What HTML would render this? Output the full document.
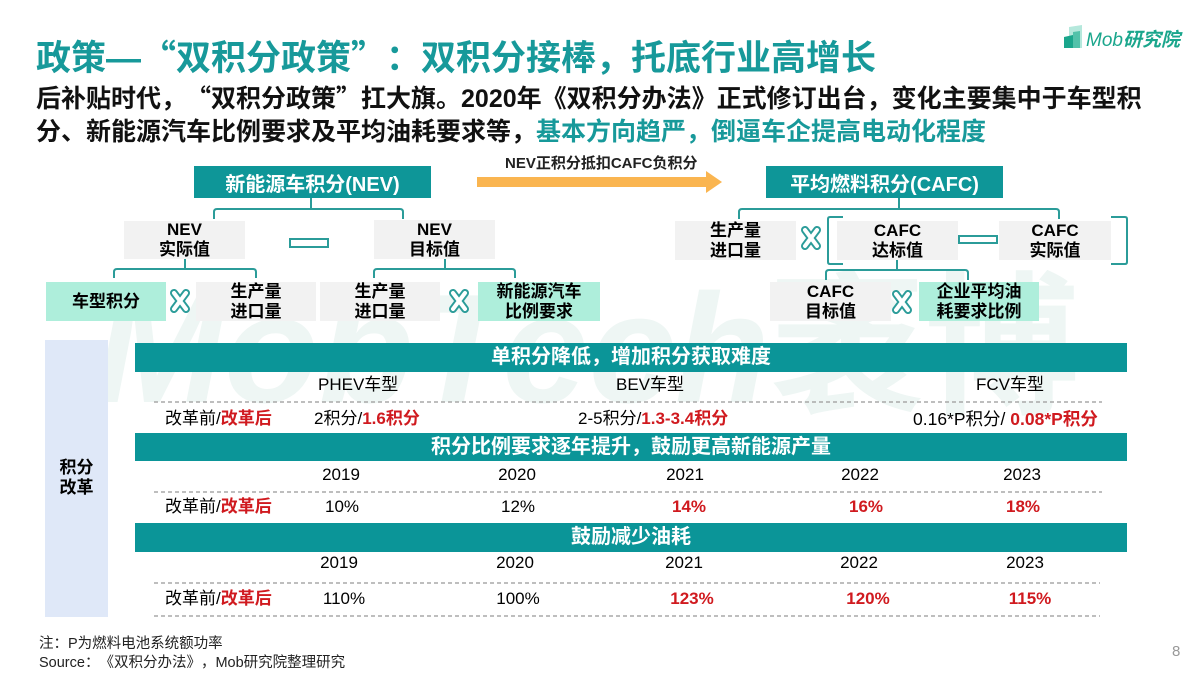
<!DOCTYPE html>
<html><head><meta charset="utf-8">
<style>
*{margin:0;padding:0;box-sizing:border-box}
body{width:1200px;height:675px;position:relative;overflow:hidden;background:#fff;font-family:"Liberation Sans","Noto Sans CJK SC",sans-serif;color:#000;text-spacing-trim:space-all}
.a{position:absolute;white-space:nowrap}
.cj{font-family:"Noto Sans CJK SC",sans-serif}
.ql{display:inline-block;width:1em;text-align:right;font-family:"Noto Sans CJK SC",sans-serif}
.qr{display:inline-block;width:1em;text-align:left;font-family:"Noto Sans CJK SC",sans-serif}
.box{position:absolute;display:flex;align-items:center;justify-content:center;text-align:center;font-weight:bold;font-size:17px;line-height:20px;white-space:nowrap}
.g{background:#f2f2f2}
.m{background:#aeeedb}
.hd{position:absolute;background:#0e9698;color:#fff;font-weight:bold;font-size:20px;display:flex;align-items:center;justify-content:center;white-space:nowrap}
.bar{position:absolute;left:135px;width:992px;background:#0b9598;color:#fff;font-weight:bold;font-size:20px;line-height:29px;height:29px;text-align:center;white-space:nowrap}
.r{color:#d01a1f;font-weight:bold}
.c{position:absolute;width:160px;text-align:center;font-size:17px;line-height:20px;white-space:nowrap}
.l{position:absolute;font-size:17px;line-height:20px;white-space:nowrap}
</style></head>
<body>

<!-- watermark -->
<div class="a" style="left:95px;top:255px;font-size:155px;line-height:160px;font-weight:bold;font-style:italic;color:#eef6f4">MobTech<span class="cj" style="font-style:normal">袤博</span></div>

<!-- title -->
<div class="a" style="left:36px;top:38px;font-size:35px;line-height:36px;font-weight:bold;color:#17999a">政策—<span class="ql">“</span>双积分政策<span class="qr">”</span><span class="qr">：</span>双积分接棒，托底行业高增长</div>

<!-- logo -->
<svg class="a" style="left:1060px;top:23px" width="30" height="30" viewBox="0 0 30 30">
  <polygon points="9,4 22,2 22,25 9,25" fill="#b5e8dc"/>
  <polygon points="13,9 20,8 20,25 13,25" fill="#52c2aa"/>
  <polygon points="4,14 13,12 13,25 4,25" fill="#1aa68c"/>
</svg>
<div class="a" style="left:1086px;top:31px;font-size:19px;line-height:20px;color:#1aa68c;font-style:italic">Mob<span style="font-weight:bold">研究院</span></div>

<!-- subtitle -->
<div class="a" style="left:36px;top:81px;font-size:25px;line-height:33px;font-weight:bold;color:#111">后补贴时代<span class="qr">，</span><span class="ql">“</span>双积分政策<span class="qr">”</span>扛大旗。2020年《双积分办法》正式修订出台，变化主要集中于车型积<br>分、新能源汽车比例要求及平均油耗要求等，<span style="color:#17999a">基本方向趋严，倒逼车企提高电动化程度</span></div>

<!-- diagram lines -->
<svg class="a" style="left:0;top:0" width="1200" height="675" viewBox="0 0 1200 675">
  <g fill="none" stroke="#2b9c99" stroke-width="2">
    <path d="M311 198 V209"/>
    <path d="M214 219 V212 Q214 209 217 209 H400 Q403 209 403 212 V219"/>
    <path d="M185 259 V269"/>
    <path d="M114 278 V272 Q114 269 117 269 H253 Q256 269 256 272 V278"/>
    <path d="M445 259 V269"/>
    <path d="M374 278 V272 Q374 269 377 269 H512 Q515 269 515 272 V278"/>
    <path d="M899 198 V209"/>
    <path d="M739 219 V212 Q739 209 742 209 H1056 Q1059 209 1059 212 V219"/>
    <path d="M897 260 V270"/>
    <path d="M826 280 V273 Q826 270 829 270 H965 Q968 270 968 273 V280"/>
    <path d="M843 217 H830 Q828 217 828 219 V262 Q828 264 830 264 H843"/>
    <path d="M1111 217 H1125 Q1127 217 1127 219 V262 Q1127 264 1125 264 H1111"/>
  </g>
  <!-- arrow -->
  <rect x="477" y="177" width="230" height="10" fill="#fab550"/>
  <polygon points="706,171 722,182 706,193" fill="#fab550"/>
</svg>

<div class="a" style="left:505px;top:155px;font-size:15px;line-height:18px;font-weight:bold;color:#222">NEV正积分抵扣CAFC负积分</div>

<!-- header boxes -->
<div class="hd" style="left:194px;top:166px;width:237px;height:32px">新能源车积分(NEV)</div>
<div class="hd" style="left:766px;top:166px;width:237px;height:32px">平均燃料积分(CAFC)</div>

<!-- NEV side -->
<div class="box g" style="left:124px;top:221px;width:121px;height:38px">NEV<br>实际值</div>
<div class="box g" style="left:374px;top:220px;width:121px;height:39px">NEV<br>目标值</div>
<div class="box m" style="left:46px;top:282px;width:120px;height:39px">车型积分</div>
<div class="box g" style="left:196px;top:282px;width:120px;height:39px">生产量<br>进口量</div>
<div class="box g" style="left:320px;top:282px;width:120px;height:39px">生产量<br>进口量</div>
<div class="box m" style="left:478px;top:282px;width:122px;height:39px">新能源汽车<br>比例要求</div>

<!-- CAFC side -->
<div class="box g" style="left:675px;top:221px;width:121px;height:39px">生产量<br>进口量</div>
<div class="box g" style="left:837px;top:221px;width:121px;height:39px">CAFC<br>达标值</div>
<div class="box g" style="left:999px;top:221px;width:112px;height:39px">CAFC<br>实际值</div>
<div class="box g" style="left:770px;top:282px;width:121px;height:39px">CAFC<br>目标值</div>
<div class="box m" style="left:919px;top:282px;width:120px;height:39px">企业平均油<br>耗要求比例</div>

<!-- symbols -->
<svg class="a" style="left:0;top:0" width="1200" height="675" viewBox="0 0 1200 675">
  <rect x="290" y="239" width="38" height="8" fill="#fff" stroke="#2b9c99" stroke-width="2"/>
  <rect x="959" y="236" width="38" height="7" fill="#fff" stroke="#2b9c99" stroke-width="2"/>
  <g stroke-linecap="round">
    <g stroke="#2b9c99" stroke-width="8">
      <path d="M174 293 L186 309 M186 293 L174 309"/>
      <path d="M453 293 L465 309 M465 293 L453 309"/>
      <path d="M805 230 L817 246 M817 230 L805 246"/>
      <path d="M896 294 L908 310 M908 294 L896 310"/>
    </g>
    <g stroke="#fff" stroke-width="4">
      <path d="M174 293 L186 309 M186 293 L174 309"/>
      <path d="M453 293 L465 309 M465 293 L453 309"/>
      <path d="M805 230 L817 246 M817 230 L805 246"/>
      <path d="M896 294 L908 310 M908 294 L896 310"/>
    </g>
  </g>
</svg>

<!-- table -->
<div class="a" style="left:45px;top:340px;width:63px;height:277px;background:#dfe8f8"></div>
<div class="a" style="left:45px;top:458px;width:63px;text-align:center;font-size:17px;line-height:20px;font-weight:bold">积分<br>改革</div>

<div class="bar" style="top:343px">单积分降低，增加积分获取难度</div>
<div class="bar" style="top:433px;height:28px;line-height:28px">积分比例要求逐年提升，鼓励更高新能源产量</div>
<div class="bar" style="top:523px">鼓励减少油耗</div>

<svg class="a" style="left:0;top:0" width="1200" height="675" viewBox="0 0 1200 675">
  <g stroke="#a8a8a8" stroke-width="1.5" stroke-dasharray="4 3">
    <line x1="154" y1="402" x2="1102" y2="402"/>
    <line x1="154" y1="492" x2="1102" y2="492"/>
    <line x1="154" y1="583" x2="1100" y2="583"/>
    <line x1="154" y1="616" x2="1100" y2="616"/>
  </g>
</svg>

<!-- row 1 -->
<div class="l" style="left:318px;top:375px">PHEV车型</div>
<div class="l" style="left:616px;top:375px">BEV车型</div>
<div class="l" style="left:976px;top:375px">FCV车型</div>

<div class="l" style="left:165px;top:409px">改革前/<span class="r">改革后</span></div>
<div class="l" style="left:314px;top:409px">2积分/<span class="r">1.6积分</span></div>
<div class="l" style="left:578px;top:409px">2-5积分/<span class="r">1.3-3.4积分</span></div>
<div class="l" style="left:913px;top:409px;font-size:17.5px">0.16*P积分/ <span class="r">0.08*P积分</span></div>

<!-- row 2 -->
<div class="c" style="left:261px;top:465px">2019</div>
<div class="c" style="left:437px;top:465px">2020</div>
<div class="c" style="left:605px;top:465px">2021</div>
<div class="c" style="left:780px;top:465px">2022</div>
<div class="c" style="left:942px;top:465px">2023</div>

<div class="l" style="left:165px;top:497px">改革前/<span class="r">改革后</span></div>
<div class="c" style="left:262px;top:497px">10%</div>
<div class="c" style="left:438px;top:497px">12%</div>
<div class="c r" style="left:609px;top:497px">14%</div>
<div class="c r" style="left:786px;top:497px">16%</div>
<div class="c r" style="left:943px;top:497px">18%</div>

<!-- row 3 -->
<div class="c" style="left:259px;top:553px">2019</div>
<div class="c" style="left:435px;top:553px">2020</div>
<div class="c" style="left:604px;top:553px">2021</div>
<div class="c" style="left:779px;top:553px">2022</div>
<div class="c" style="left:945px;top:553px">2023</div>

<div class="l" style="left:165px;top:589px">改革前/<span class="r">改革后</span></div>
<div class="c" style="left:264px;top:589px">110%</div>
<div class="c" style="left:438px;top:589px">100%</div>
<div class="c r" style="left:612px;top:589px">123%</div>
<div class="c r" style="left:788px;top:589px">120%</div>
<div class="c r" style="left:950px;top:589px">115%</div>

<!-- footnotes -->
<div class="a" style="left:39px;top:634px;font-size:14.5px;line-height:18px;color:#222">注<span class="qr">：</span>P为燃料电池系统额功率</div>
<div class="a" style="left:39px;top:653px;font-size:14.5px;line-height:18px;color:#222">Source<span class="qr">：</span><span class="ql">《</span>双积分办法<span class="qr">》</span><span class="qr">，</span>Mob研究院整理研究</div>
<div class="a" style="left:1172px;top:643px;font-size:15px;line-height:18px;color:#999">8</div>

</body></html>
